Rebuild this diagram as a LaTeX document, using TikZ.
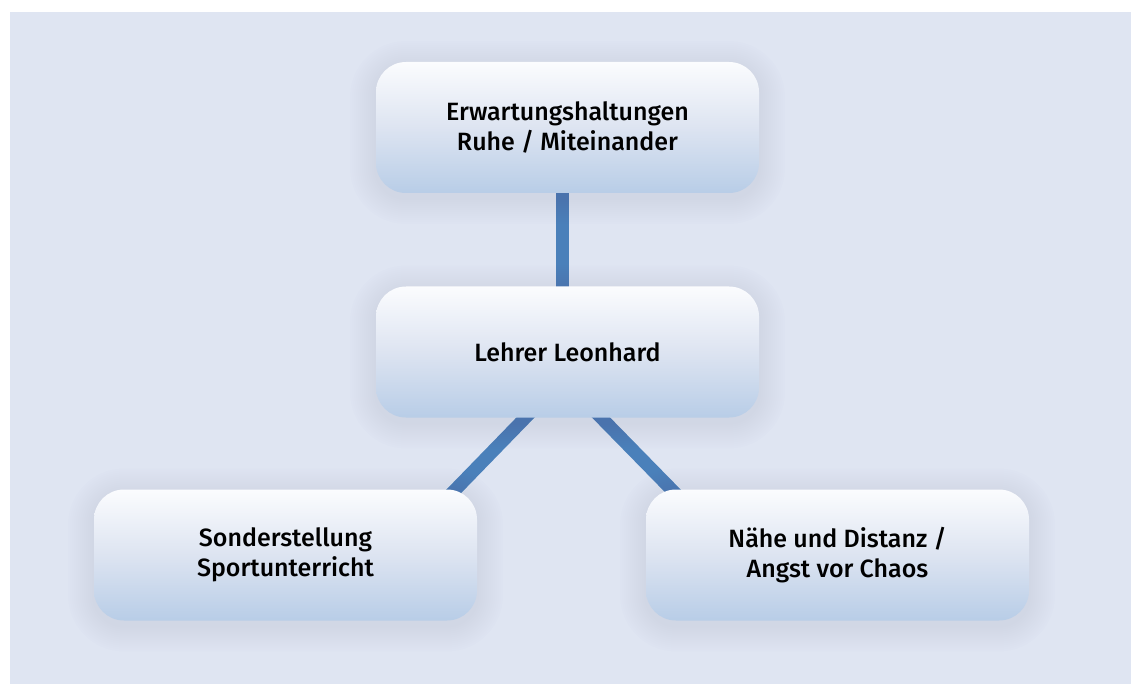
\documentclass[tikz,border=0pt]{standalone}
\usepackage{fontspec}
\IfFontExistsTF{Fira Sans Medium}
  {\newfontfamily\boxfont{Fira Sans Medium}}
  {\newfontfamily\boxfont{Fira Sans}[FakeBold=0.3]}
\definecolor{pagebg}{RGB}{223,229,242}
\definecolor{boxtop}{RGB}{251,252,254}
\definecolor{boxmid}{RGB}{221,228,241}
\definecolor{boxbot}{RGB}{184,205,231}
\definecolor{linkblue}{RGB}{74,128,186}
\definecolor{halotint}{RGB}{95,100,115}
\pgfdeclarelayer{backdrop}
\pgfdeclarelayer{links}
\pgfdeclarelayer{halo}
\pgfsetlayers{backdrop,links,halo,main}
\tikzset{
  topic/.style={
    rectangle, rounded corners=30pt, inner sep=0pt, outer sep=0pt,
    minimum width=383pt, minimum height=131pt,
    top color=boxtop, bottom color=boxbot, middle color=boxmid,
    align=center, font=\boxfont\fontsize{25}{30}\selectfont, text=black
  },
  link/.style={draw=linkblue, line width=13pt, line cap=butt,
               shorten <=-12pt, shorten >=-12pt},
  halo/.style={fill=halotint, opacity=0.008}
}
% soft shadow built from stacked, slightly lowered rounded outlines
\newcommand\boxhalo[1]{%
  \foreach \d in {2,4,...,26} {
    \fill[halo, rounded corners={(30+\d)*1pt}]
      ([xshift={-\d*1pt}, yshift={-(\d+5)*1pt}]#1.south west) rectangle
      ([xshift={\d*1pt}, yshift={(\d-5)*1pt}]#1.north east);
  }}
\begin{document}
\begin{tikzpicture}[x=1pt, y=-1pt]
  \useasboundingbox (0,0) rectangle (1131,684);
  \begin{pgfonlayer}{backdrop}
    \fill[pagebg] (10,12) rectangle (1131,684);
  \end{pgfonlayer}

  \node[topic] (top) at (567.5,127.5) {Erwartungshaltungen\\Ruhe / Miteinander};
  \node[topic] (mid) at (567.5,352) {Lehrer Leonhard};
  \node[topic] (left) at (285.5,555) {Sonderstellung\\Sportunterricht};
  \node[topic] (right) at (837.5,555) {Nähe und Distanz /\\Angst vor Chaos};

  \begin{pgfonlayer}{halo}
    \boxhalo{top}
    \boxhalo{mid}
    \boxhalo{left}
    \boxhalo{right}
  \end{pgfonlayer}

  \begin{pgfonlayer}{links}
    \draw[link] ([xshift=-5pt]top.south) -- ([xshift=-5pt]mid.north);
    \draw[link] ([xshift=-42pt]mid.south) -- ([xshift=170pt]left.north);
    \draw[link] ([xshift=33.5pt]mid.south) -- ([xshift=-166pt]right.north);
  \end{pgfonlayer}
\end{tikzpicture}
\end{document}
